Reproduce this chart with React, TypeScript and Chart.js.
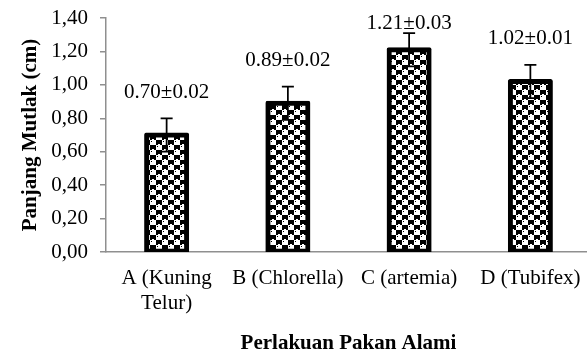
import React, { useEffect, useRef } from "react";
import { Chart, registerables } from "chart.js";

Chart.register(...registerables);

const categories: (string | string[])[] = [["A (Kuning", "Telur)"], "B (Chlorella)", "C (artemia)", "D (Tubifex)"];
const means = [0.7, 0.89, 1.21, 1.02];
const sds = [0.02, 0.02, 0.03, 0.01];
const errorBars = [0.1, 0.1, 0.1, 0.1];
const yTicks = [0, 0.2, 0.4, 0.6, 0.8, 1.0, 1.2, 1.4];

const FONT = "'Liberation Serif', 'Times New Roman', serif";
const GREY = "#8f8f8f";

function makePattern(ctx: CanvasRenderingContext2D) {
  const c = document.createElement("canvas");
  c.width = 12;
  c.height = 10;
  const p = c.getContext("2d")!;
  p.fillStyle = "#fff";
  p.fillRect(0, 0, 12, 10);
  p.fillStyle = "#000";
  p.fillRect(0, 0, 6, 5);
  p.fillRect(6, 5, 6, 5);
  p.fillStyle = "#fff";
  p.fillRect(2, 4, 2, 1);
  p.fillRect(8, 9, 2, 1);
  p.fillStyle = "#000";
  p.fillRect(7, 1, 1, 1);
  p.fillRect(1, 6, 1, 1);
  return ctx.createPattern(c, "repeat")!;
}

const overlay = {
  id: "overlay",
  afterDatasetsDraw(chart: any) {
    const { ctx, chartArea } = chart;
    const meta = chart.getDatasetMeta(0);
    const y = chart.scales.y;
    ctx.save();
    meta.data.forEach((bar: any, i: number) => {
      const x = bar.x;
      const top = y.getPixelForValue(means[i] + errorBars[i]);
      const bot = y.getPixelForValue(means[i] - errorBars[i]);
      ctx.strokeStyle = "#000";
      ctx.lineWidth = 1.75;
      ctx.beginPath();
      ctx.moveTo(x, top);
      ctx.lineTo(x, bot);
      ctx.moveTo(x - 6, top);
      ctx.lineTo(x + 6, top);
      ctx.moveTo(x - 6, bot);
      ctx.lineTo(x + 6, bot);
      ctx.stroke();
      const ly = Math.max(top - 26, chartArea.top + 5);
      ctx.fillStyle = "#000";
      ctx.font = `21px ${FONT}`;
      ctx.textAlign = "center";
      ctx.textBaseline = "middle";
      ctx.fillText(`${means[i].toFixed(2)}±${sds[i].toFixed(2)}`, x, ly);
    });
    ctx.restore();
  },
};

export default function App() {
  const ref = useRef<HTMLCanvasElement>(null);
  useEffect(() => {
    const canvas = ref.current!;
    const ctx = canvas.getContext("2d")!;
    const pattern = makePattern(ctx);
    const chart = new Chart(ctx, {
      type: "bar",
      data: {
        labels: categories,
        datasets: [
          {
            data: means,
            backgroundColor: pattern,
            borderColor: "#000",
            borderWidth: 5,
            borderSkipped: false,
            borderRadius: 2,
            inflateAmount: 2.5,
            categoryPercentage: 1,
            barPercentage: 0.33,
          },
        ],
      },
      options: {
        responsive: false,
        animation: false,
        devicePixelRatio: 1,
        layout: { padding: { top: 18, left: 0, right: 0, bottom: 0 } },
        plugins: { legend: { display: false }, tooltip: { enabled: false } },
        scales: {
          x: {
            grid: { display: false },
            border: { display: true, color: GREY, width: 1.5 },
            ticks: { color: "#000", font: { family: FONT, size: 21 }, padding: 6, maxRotation: 0, autoSkip: false },
            title: {
              display: true,
              text: "Perlakuan Pakan Alami",
              color: "#000",
              font: { family: FONT, size: 21, weight: "bold", lineHeight: 1 },
              padding: { top: 0, bottom: -3.5 },
            },
            afterFit(scale: any) {
              scale.height = 99;
              scale.paddingLeft = 0;
              scale.paddingRight = 0;
            },
          },
          y: {
            min: 0,
            max: 1.4,
            grid: { display: true, drawOnChartArea: false, drawTicks: true, tickLength: 6, color: GREY, lineWidth: 1.5 },
            border: { display: true, color: GREY, width: 1.5 },
            afterBuildTicks(scale: any) {
              scale.ticks = yTicks.map((v) => ({ value: v }));
            },
            ticks: {
              color: "#000",
              font: { family: FONT, size: 21 },
              padding: 12,
              callback: (v: any) => Number(v).toFixed(2).replace(".", ","),
            },
            title: {
              display: true,
              text: "Panjang Mutlak (cm)",
              color: "#000",
              font: { family: FONT, size: 21, weight: "bold", lineHeight: 1.2 },
              padding: { top: 18, bottom: 0 },
            },
            afterFit(scale: any) {
              scale.width = 106;
              scale.paddingTop = 0;
              scale.paddingBottom = 0;
            },
          },
        },
      },
      plugins: [overlay],
    } as any);
    return () => chart.destroy();
  }, []);
  return (
    <div style={{ position: "absolute", left: 0, top: 0, width: 587, height: 351, overflow: "hidden", background: "#fff" }}>
      <canvas ref={ref} width={591} height={351} style={{ display: "block" }} />
    </div>
  );
}
